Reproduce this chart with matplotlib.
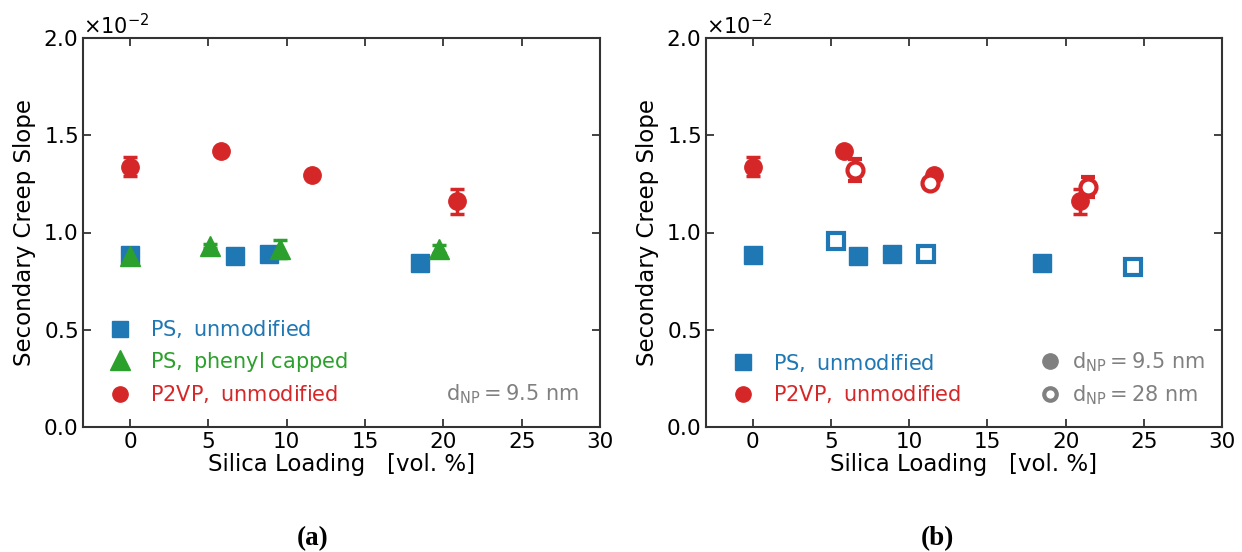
import matplotlib
matplotlib.use("Agg")
import matplotlib.pyplot as plt
from matplotlib.lines import Line2D
from matplotlib.ticker import ScalarFormatter
import numpy as np

# ---- data (values in units of 1e-2) ----
ps_x = [0.0, 6.7, 8.9, 18.5]
ps_y = [0.884, 0.879, 0.890, 0.845]
ps_err = [0.01, 0.01, 0.01, 0.01]

ph_x = [0.0, 5.1, 9.6, 19.7]
ph_y = [0.880, 0.932, 0.915, 0.914]
ph_err = [0.01, 0.01, 0.045, 0.02]

p2_x = [0.0, 5.8, 11.6, 20.9]
p2_y = [1.338, 1.417, 1.298, 1.160]
p2_err = [0.05, 0.02, 0.01, 0.065]

ps28_x = [5.3, 11.1, 24.3]
ps28_y = [0.958, 0.887, 0.823]
ps28_err = [0.01, 0.01, 0.01]

p228_x = [6.5, 11.3, 21.4]
p228_y = [1.322, 1.255, 1.233]
p228_err = [0.055, 0.015, 0.05]

xticks = [0, 5, 10, 15, 20, 25, 30]
yticks = [0.0, 0.5, 1.0, 1.5, 2.0]
scale = 1e-2

BLUE = "#1f77b4"
GREEN = "#2ca02c"
RED = "#d62728"
GREY = "#808080"

plt.rcParams["font.family"] = "DejaVu Sans"
plt.rcParams["mathtext.fontset"] = "dejavusans"

fig = plt.figure(figsize=(12.42, 5.52), dpi=100)
axA = fig.add_axes([83/1242, 125/552, 517/1242, 389/552])
axB = fig.add_axes([706/1242, 125/552, 516/1242, 389/552])


def s(v):
    return np.asarray(v) * scale


def style(ax):
    ax.set_xlim(-3, 30)
    ax.set_ylim(0, 2.0 * scale)
    ax.set_xticks(xticks)
    ax.set_yticks(s(yticks))
    fmt = ScalarFormatter(useMathText=True)
    fmt.set_powerlimits((0, 0))
    ax.yaxis.set_major_formatter(fmt)
    ax.tick_params(direction="in", top=True, right=True, length=6, width=1.2,
                   labelsize=15.5, colors="#222222", labelcolor="black")
    ax.yaxis.get_offset_text().set_fontsize(15)
    for sp in ax.spines.values():
        sp.set_linewidth(1.5)
        sp.set_color("#333333")
    ax.set_xlabel("Silica Loading   [vol. %]", fontsize=16.5, labelpad=1)
    ax.set_ylabel("Secondary Creep Slope", fontsize=16.5, labelpad=5)


ms = 12.5
ekw = dict(elinewidth=2.5, capsize=5, capthick=2.5, linestyle="none")
legkw = dict(frameon=False, fontsize=15, handlelength=1.6, handletextpad=0.64,
             labelspacing=0.45, borderaxespad=0)

# ---- panel (a) ----
axA.errorbar(ps_x, s(ps_y), yerr=s(ps_err), marker="s", color=BLUE, ms=ms, **ekw)
axA.errorbar(ph_x, s(ph_y), yerr=s(ph_err), marker="^", color=GREEN, ms=15, **ekw)
axA.errorbar(p2_x, s(p2_y), yerr=s(p2_err), marker="o", color=RED, ms=ms, **ekw)
style(axA)

hA = [Line2D([], [], marker="s", color=BLUE, ls="none", ms=11),
      Line2D([], [], marker="^", color=GREEN, ls="none", ms=14),
      Line2D([], [], marker="o", color=RED, ls="none", ms=11)]
labA = [r"$\mathrm{PS,\ unmodified}$", r"$\mathrm{PS,\ phenyl\ capped}$",
        r"$\mathrm{P2VP,\ unmodified}$"]
axA.legend(hA, labA, loc="lower left", bbox_to_anchor=(0.023, 0.035),
           labelcolor=[BLUE, GREEN, RED], **legkw)
axA.text(0.96, 0.085, r"$\mathrm{d_{NP} = 9.5\ nm}$", transform=axA.transAxes,
         ha="right", va="center", fontsize=15, color=GREY)

# ---- panel (b) ----
axB.errorbar(ps_x, s(ps_y), yerr=s(ps_err), marker="s", color=BLUE, ms=ms, **ekw)
axB.errorbar(ps28_x, s(ps28_y), yerr=s(ps28_err), marker="s", color=BLUE, ms=ms - 1,
             mfc="white", mec=BLUE, mew=3, **ekw)
axB.errorbar(p2_x, s(p2_y), yerr=s(p2_err), marker="o", color=RED, ms=ms, **ekw)
axB.errorbar(p228_x, s(p228_y), yerr=s(p228_err), marker="o", color=RED, ms=ms - 1,
             mfc="white", mec=RED, mew=3, **ekw)
style(axB)

hB1 = [Line2D([], [], marker="s", color=BLUE, ls="none", ms=11),
       Line2D([], [], marker="o", color=RED, ls="none", ms=11)]
labB1 = [r"$\mathrm{PS,\ unmodified}$", r"$\mathrm{P2VP,\ unmodified}$"]
legB1 = axB.legend(hB1, labB1, loc="lower left", bbox_to_anchor=(0.023, 0.035),
                   labelcolor=[BLUE, RED], **legkw)
axB.add_artist(legB1)
hB2 = [Line2D([], [], marker="o", color=GREY, ls="none", ms=11),
       Line2D([], [], marker="o", color=GREY, ls="none", ms=9, mfc="white", mew=3)]
labB2 = [r"$\mathrm{d_{NP} = 9.5\ nm}$", r"$\mathrm{d_{NP} = 28\ nm}$"]
axB.legend(hB2, labB2, loc="lower left", bbox_to_anchor=(0.63, 0.03),
           frameon=False, fontsize=15, labelcolor=[GREY, GREY], handlelength=1.0,
           handletextpad=0.56, labelspacing=0.45, borderaxespad=0)

# captions
fig.text(313/1242, 1 - 539/552, "(a)", ha="center", va="center",
         fontsize=19.5, fontweight="bold", family="Liberation Serif")
fig.text(937/1242, 1 - 539/552, "(b)", ha="center", va="center",
         fontsize=19.5, fontweight="bold", family="Liberation Serif")

fig.savefig("out.png", dpi=100)
